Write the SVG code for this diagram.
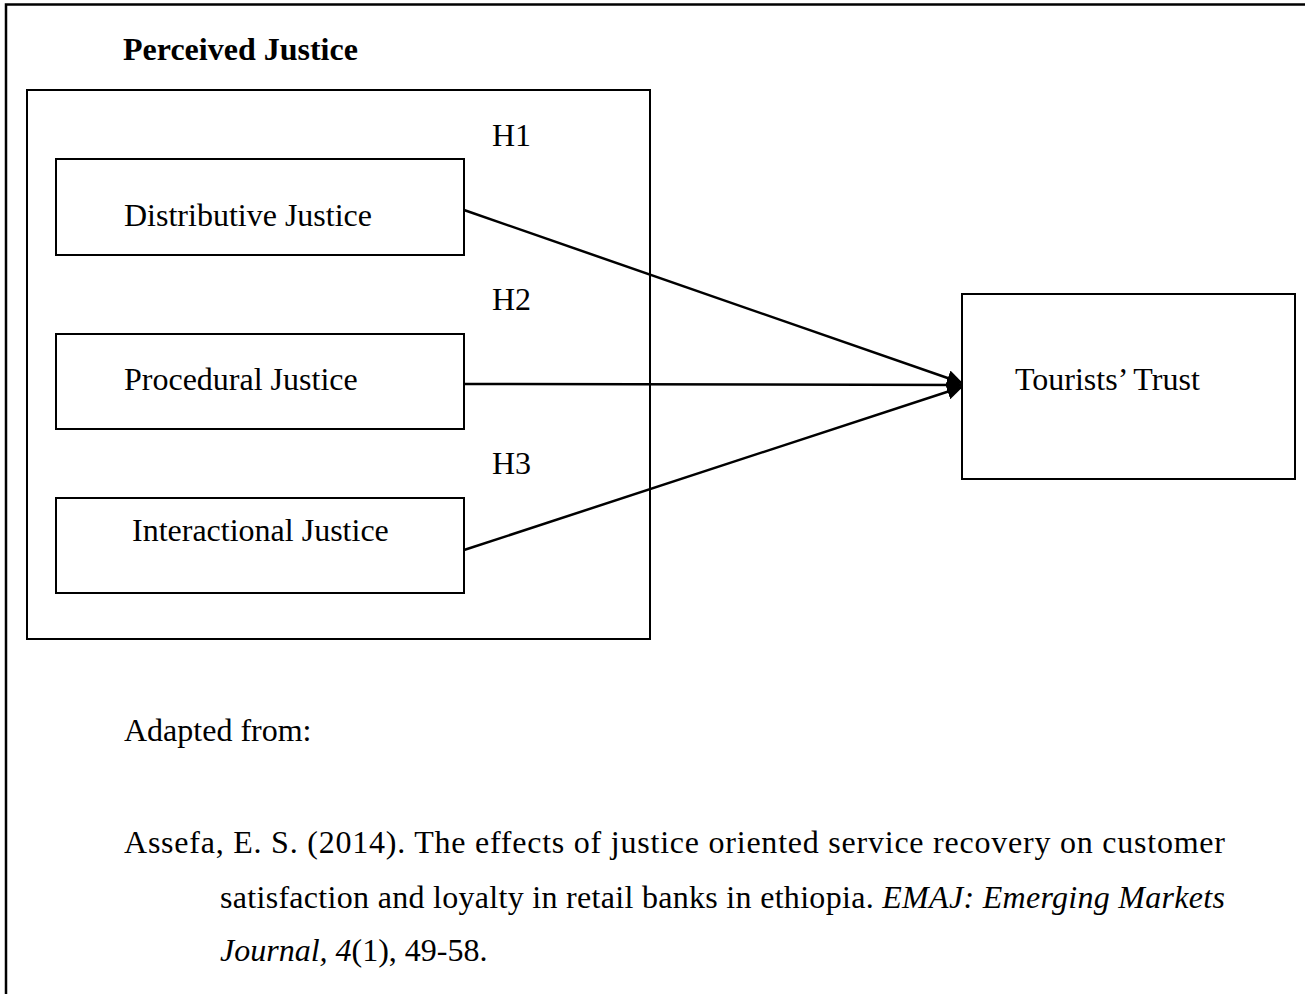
<svg xmlns="http://www.w3.org/2000/svg" width="1305" height="994" viewBox="0 0 1305 994">
<defs>
<style>
text{font-family:"Liberation Serif","Times New Roman",serif;font-size:32px;fill:#000}
.b{font-weight:bold}
.box{fill:#fff;stroke:#000;stroke-width:2}
.con{stroke:#000;stroke-width:2.5;fill:none}
</style>
<marker id="ah" markerWidth="16" markerHeight="16" viewBox="0 0 16 16" refX="15" refY="8" orient="auto" markerUnits="userSpaceOnUse">
<path d="M0,0 L16,8 L0,16 Z" fill="#000"/>
</marker>
</defs>
<rect width="1305" height="994" fill="#fff"/>
<path d="M6,994 V4.5 H1305" fill="none" stroke="#000" stroke-width="2.5"/>
<g id="perceived-justice">
<rect class="box" x="27" y="90" width="623" height="549"/>
<text class="b" x="123" y="60">Perceived Justice</text>
</g>
<g id="distributive">
<rect class="box" x="56" y="159" width="408" height="96"/>
<text x="124" y="226">Distributive Justice</text>
</g>
<g id="procedural">
<rect class="box" x="56" y="334" width="408" height="95"/>
<text x="124" y="390">Procedural Justice</text>
</g>
<g id="interactional">
<rect class="box" x="56" y="498" width="408" height="95"/>
<text x="132" y="541">Interactional Justice</text>
</g>
<g id="trust">
<rect class="box" x="962" y="294" width="333" height="185"/>
<text x="1015" y="390">Tourists’ Trust</text>
</g>
<g id="connectors">
<line class="con" x1="464" y1="210" x2="962" y2="383" marker-end="url(#ah)"/>
<line class="con" x1="464" y1="384" x2="962" y2="385" marker-end="url(#ah)"/>
<line class="con" x1="464" y1="550" x2="962" y2="387" marker-end="url(#ah)"/>
<text x="492" y="146">H1</text>
<text x="492" y="310">H2</text>
<text x="492" y="474">H3</text>
</g>
<g id="citation">
<text x="124" y="741">Adapted from:</text>
<text x="124" y="853" textLength="1101" lengthAdjust="spacing">Assefa, E. S. (2014). The effects of justice oriented service recovery on customer</text>
<text x="220" y="908" textLength="1005" lengthAdjust="spacing">satisfaction and loyalty in retail banks in ethiopia. <tspan font-style="italic">EMAJ: Emerging Markets</tspan></text>
<text x="220" y="961"><tspan font-style="italic">Journal, 4</tspan>(1), 49-58.</text>
</g>
</svg>
